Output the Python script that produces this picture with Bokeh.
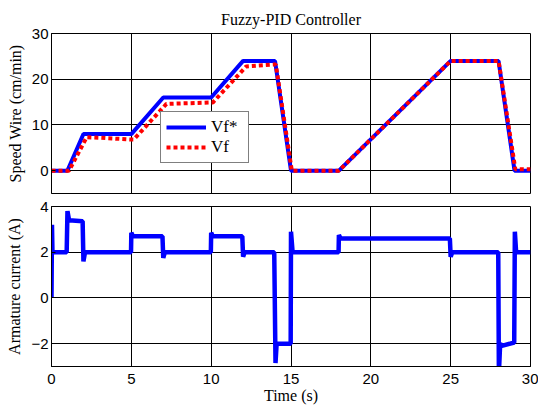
from bokeh.plotting import figure
from bokeh.layouts import column
from bokeh.models import FixedTicker, Legend, LegendItem, Range1d
from bokeh.embed import file_html
from bokeh.resources import INLINE

# ---- data ----
t_ref = [0, 1.0, 2.0, 5.0, 7.0, 10.0, 12.0, 14.0, 15.0, 18.0, 25.0, 28.0, 29.0, 30]
vf_ref = [0, 0, 8, 8, 16, 16, 24, 24, 0, 0, 24, 24, 0, 0]

t_vf = [0, 1.1, 2.2, 3.0, 5.0, 5.15, 7.2, 10.0, 10.1, 12.2, 13.9, 14.05, 15.05, 18.0, 25.0, 28.0, 29.05, 30]
vf = [0, 0, 7.3, 7.2, 6.8, 6.8, 14.6, 14.9, 14.9, 22.8, 23.2, 23.2, 0, 0, 24, 24, 0.3, 0.3]

t_ia = [0, 0.03, 0.06, 0.95, 1.0, 1.1, 1.95, 2.0, 2.1, 4.98, 5.0, 5.1, 6.95, 7.0, 7.1,
        9.98, 10.0, 10.1, 11.95, 12.0, 12.1, 13.95, 14.03, 14.1, 14.98, 15.0, 15.1,
        17.98, 18.0, 18.1, 24.95, 25.0, 25.1, 27.98, 28.02, 28.1, 28.2, 28.98, 29.02, 29.1, 30]
ia = [0, 3.2, 2.0, 2.0, 3.8, 3.4, 3.35, 1.6, 2.0, 2.0, 2.85, 2.7, 2.7, 1.75, 2.0,
      2.0, 2.85, 2.7, 2.7, 1.8, 2.0, 2.0, -2.85, -2.0, -2.0, 2.9, 2.0,
      2.0, 2.75, 2.6, 2.6, 1.8, 2.0, 2.0, -3.3, -2.0, -2.1, -1.95, 2.9, 2.0, 2.0]

x_ticks = [0, 5, 10, 15, 20, 25, 30]
y1_ticks = [0, 10, 20, 30]
y2_ticks = [-2, 0, 2, 4]

SERIF = "Liberation Serif"
SANS = "Liberation Sans"


def style(p, xt, yt):
    p.outline_line_color = "black"
    p.outline_line_width = 1
    p.outline_line_alpha = 1
    p.border_fill_color = "white"
    p.background_fill_color = "white"
    p.xaxis.ticker = FixedTicker(ticks=xt)
    p.yaxis.ticker = FixedTicker(ticks=yt)
    p.xgrid.ticker = FixedTicker(ticks=xt)
    p.ygrid.ticker = FixedTicker(ticks=yt)
    for g in (p.xgrid, p.ygrid):
        g.grid_line_color = "black"
        g.grid_line_width = 1
        g.grid_line_alpha = 1
    for ax in (p.xaxis, p.yaxis):
        ax.axis_line_color = "black"
        ax.major_tick_in = 4
        ax.major_tick_out = 0
        ax.minor_tick_line_color = None
        ax.major_label_text_font = SANS
        ax.major_label_text_font_size = "15px"
        ax.major_label_text_color = "black"
        ax.major_label_standoff = 3
        ax.axis_label_text_font = SERIF
        ax.axis_label_text_font_size = "16px"
        ax.axis_label_text_font_style = "normal"
        ax.axis_label_text_color = "black"
        ax.axis_label_standoff = 5


# ---- top plot ----
p1 = figure(width=538, height=199, output_backend="svg", toolbar_location=None,
            x_range=Range1d(0, 30), y_range=Range1d(-5, 30),
            min_border_left=51, min_border_right=8, min_border_top=33, min_border_bottom=6)
style(p1, x_ticks, y1_ticks)
p1.xaxis.visible = False
p1.yaxis.axis_label = "Speed Wire (cm/min)"
p1.title.text = "Fuzzy-PID Controller"
p1.title.align = "center"
p1.title.text_font = SERIF
p1.title.text_font_size = "16px"
p1.title.text_font_style = "normal"
p1.title.text_color = "black"
p1.title.standoff = 11

r1 = p1.line(t_ref, vf_ref, line_color="#0000FF", line_width=4)
r2 = p1.line(t_vf, vf, line_color="#FF0000", line_width=4, line_dash="4 3")

legend = Legend(items=[LegendItem(label="Vf*", renderers=[r1]),
                       LegendItem(label="Vf", renderers=[r2])],
                location=(109, 30))
legend.label_text_font = SERIF
legend.label_text_font_size = "17px"
legend.label_text_color = "black"
legend.border_line_color = "black"
legend.border_line_width = 1
legend.padding = 5
legend.spacing = 0
legend.margin = 0
legend.glyph_width = 40
legend.glyph_height = 20
legend.label_height = 20
legend.label_width = 32
legend.label_standoff = 5
legend.background_fill_alpha = 1
p1.add_layout(legend)

# ---- bottom plot ----
p2 = figure(width=538, height=208, output_backend="svg", toolbar_location=None,
            x_range=Range1d(0, 30), y_range=Range1d(-3, 4),
            min_border_left=51, min_border_right=8, min_border_top=7, min_border_bottom=41)
style(p2, x_ticks, y2_ticks)
p2.yaxis.axis_label = "Armature current (A)"
p2.xaxis.axis_label = "Time (s)"
p2.xaxis.major_label_standoff = 7
p2.xaxis.axis_label_standoff = 0
p2.line(t_ia, ia, line_color="#0000FF", line_width=4.5)

layout = column(p1, p2, spacing=0)
open("out.html", "w").write(file_html(layout, INLINE))
